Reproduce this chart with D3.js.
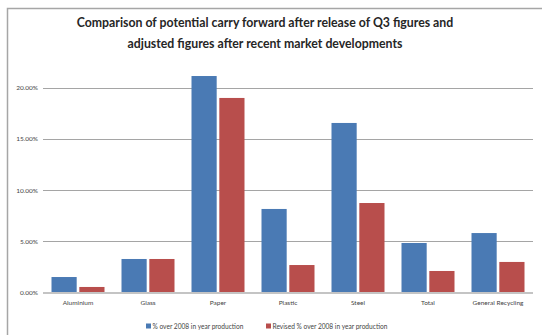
<!DOCTYPE html>
<html>
<head>
<meta charset="utf-8">
<script src="https://cdn.jsdelivr.net/npm/d3@7"></script>
<style>
  html, body { margin: 0; padding: 0; background: #fff; }
  svg { display: block; }
</style>
</head>
<body>
<svg id="chart" width="542" height="335"></svg>
<script>
// Material categories and the two series (fractions, shown as percentages)
const categories = ["Aluminium", "Glass", "Paper", "Plastic", "Steel", "Total", "General Recycling"];
const original = [0.0151, 0.0327, 0.2112, 0.0815, 0.1654, 0.0483, 0.0580];
const revised  = [0.0054, 0.0327, 0.1898, 0.0268, 0.0873, 0.0210, 0.0298];
const seriesNames = ["% over 2008 in year production", "Revised % over 2008 in year production"];
const yTicks = [0, 0.05, 0.10, 0.15, 0.20];
const titleLines = [
  "Comparison of potential carry forward after release of Q3 figures and",
  "adjusted figures after recent market developments"
];

const colors = ["#4a7ab4", "#b84e4c"];
const font = "Lato, 'Open Sans', sans-serif";

const svg = d3.select("#chart");

// outer chart frame (only top and left edges fall inside the view)
svg.append("path")
  .attr("d", "M7.5,340 V8.5 H545")
  .attr("fill", "none")
  .attr("stroke", "#a6a6a6")
  .attr("stroke-width", 1.5);

const x0 = d3.scaleBand().domain(categories).range([43, 533]).paddingInner(0).paddingOuter(0);
const x1 = d3.scaleBand().domain([0, 1]).range([8.5, 61.5]).paddingInner(5 / 53);
const y = d3.scaleLinear().domain([0, 0.2]).range([292.5, 87.5]);

// gridlines
svg.append("g")
  .selectAll("line")
  .data(yTicks.filter(d => d > 0))
  .join("line")
  .attr("x1", 43).attr("x2", 533)
  .attr("y1", d => Math.round(y(d)) + 0.5)
  .attr("y2", d => Math.round(y(d)) + 0.5)
  .attr("stroke", "#a5a5a5")
  .attr("stroke-width", 1);

// y axis tick labels
const yAxis = d3.axisLeft(y).tickValues(yTicks).tickFormat(d3.format(".2%")).tickSize(0).tickPadding(5);
svg.append("g")
  .attr("transform", "translate(43,0)")
  .call(yAxis)
  .call(g => g.select(".domain").remove())
  .call(g => g.selectAll("text")
    .attr("font-family", font)
    .attr("font-size", 6.5)
    .attr("fill", "#444"));

// bars
const rows = categories.map((c, i) => ({ cat: c, vals: [original[i], revised[i]] }));
svg.append("g")
  .selectAll("g")
  .data(rows)
  .join("g")
  .attr("transform", d => `translate(${x0(d.cat)},0)`)
  .selectAll("rect")
  .data(d => d.vals.map((v, k) => ({ k, v })))
  .join("rect")
  .attr("x", d => x1(d.k))
  .attr("width", x1.bandwidth())
  .attr("y", d => y(d.v))
  .attr("height", d => y(0) - y(d.v))
  .attr("fill", d => colors[d.k]);

// baseline
svg.append("line")
  .attr("x1", 43).attr("x2", 533)
  .attr("y1", y(0) + 0.5).attr("y2", y(0) + 0.5)
  .attr("stroke", "#c4c4c4")
  .attr("stroke-width", 2);

// category labels
const xAxis = d3.axisBottom(x0).tickSize(0).tickPadding(8);
svg.append("g")
  .attr("transform", `translate(0,${y(0)})`)
  .call(xAxis)
  .call(g => g.select(".domain").remove())
  .call(g => g.selectAll("text")
    .attr("font-family", font)
    .attr("font-size", 6.5)
    .attr("fill", "#444"));

// title
svg.append("g")
  .selectAll("text")
  .data(titleLines)
  .join("text")
  .attr("x", 265)
  .attr("y", (d, i) => 26.5 + i * 21)
  .attr("text-anchor", "middle")
  .attr("font-family", font)
  .attr("font-weight", "bold")
  .attr("font-size", 12.3)
  .attr("fill", "#262626")
  .text(d => d);

// legend
const legendX = [150, 270];
const legend = svg.append("g")
  .selectAll("g")
  .data(seriesNames)
  .join("g")
  .attr("transform", (d, i) => `translate(${legendX[i]},327)`);
legend.append("rect")
  .attr("x", -4).attr("y", -3.5)
  .attr("width", 5).attr("height", 5)
  .attr("fill", (d, i) => colors[i]);
legend.append("text")
  .attr("x", 2.5).attr("y", 2.2)
  .attr("font-family", font)
  .attr("font-size", 6.6)
  .attr("fill", "#444")
  .text(d => d);
</script>
</body>
</html>
